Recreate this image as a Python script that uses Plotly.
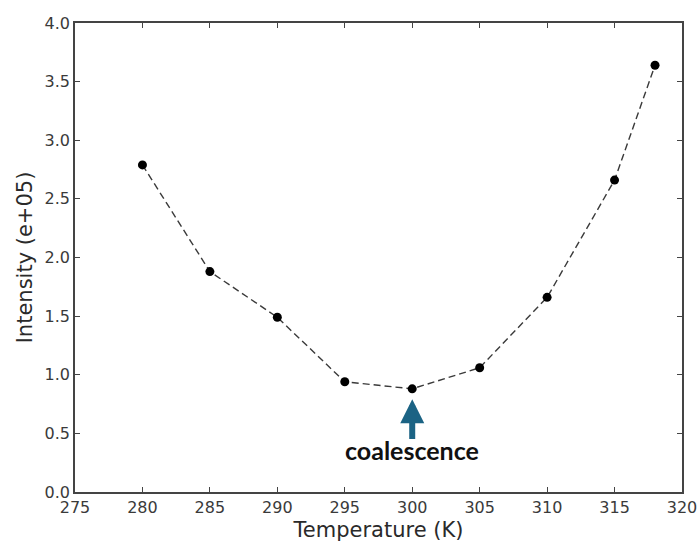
import plotly.graph_objects as go

temperature = [280, 285, 290, 295, 300, 305, 310, 315, 318]
intensity = [2.79, 1.88, 1.49, 0.94, 0.88, 1.06, 1.66, 2.66, 3.64]
x_ticks = [275, 280, 285, 290, 295, 300, 305, 310, 315, 320]
y_ticks = [0.0, 0.5, 1.0, 1.5, 2.0, 2.5, 3.0, 3.5, 4.0]
note_text = "coalescence"
note_x = 300
note_tip_y = 0.79
note_tail_y = 0.44
note_label_y = 0.355

fig = go.Figure()
fig.add_trace(go.Scatter(
    x=temperature, y=intensity, mode="lines+markers",
    line=dict(color="#3a3a3a", width=1.4, dash="7px,4px"),
    marker=dict(color="black", size=9),
    showlegend=False,
))

fig.add_annotation(
    x=note_x, y=note_tip_y, ax=note_x, ay=note_tail_y,
    xref="x", yref="y", axref="x", ayref="y",
    showarrow=True, arrowhead=2, arrowwidth=6, arrowsize=0.8,
    arrowcolor="#1b6384", text="",
)
fig.add_annotation(
    x=note_x, y=note_label_y, xref="x", yref="y", showarrow=False,
    text="<b>" + note_text + "</b>",
    font=dict(family="Lato", size=25, color="#111111"),
)

axis_common = dict(
    showgrid=False, zeroline=False, showline=True, linecolor="#444444",
    linewidth=1.5, mirror="allticks", ticks="inside", ticklen=5,
    tickcolor="#444444", tickwidth=1, automargin=False,
    ticklabeloverflow="allow",
    tickfont=dict(family="DejaVu Sans", size=16, color="#3a3a3a"),
)

fig.update_xaxes(
    range=[275, 320.0001], tickvals=x_ticks, ticktext=[str(v) for v in x_ticks],
    title=dict(text="Temperature (K)", font=dict(family="DejaVu Sans", size=21, color="#2a2a2a"), standoff=6),
    **axis_common,
)
fig.update_yaxes(
    range=[0, 4.0001], tickvals=y_ticks, ticktext=[f"{v:.1f}" for v in y_ticks],
    title=dict(text="Intensity (e+05)", font=dict(family="DejaVu Sans", size=21, color="#2a2a2a"), standoff=6),
    **axis_common,
)

fig.update_layout(
    width=697, height=543,
    margin=dict(l=75, r=15, t=23, b=51),
    plot_bgcolor="white", paper_bgcolor="white",
)

fig.write_html("out.html")
